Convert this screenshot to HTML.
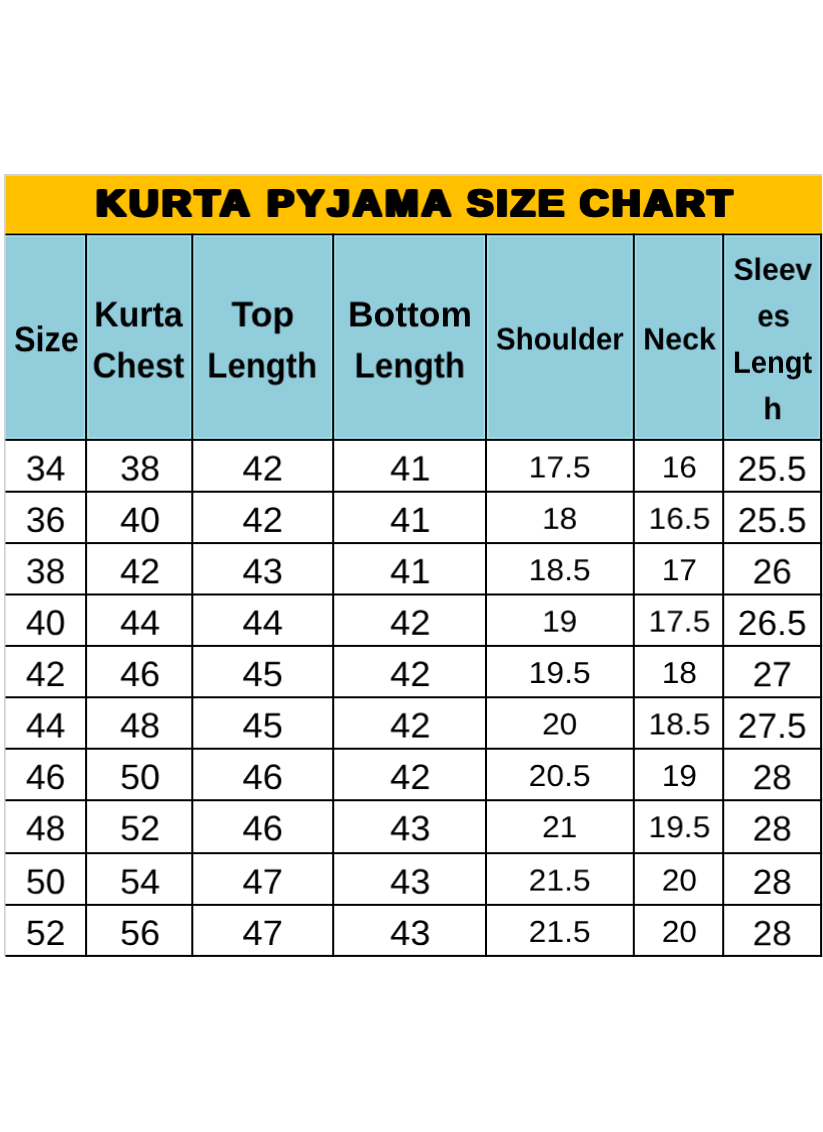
<!DOCTYPE html>
<html lang="en"><head><meta charset="utf-8">
<title>Kurta Pyjama Size Chart</title>
<style>
html,body{margin:0;padding:0;background:#fff;}
body{width:823px;height:1132px;overflow:hidden;position:relative;font-family:"Liberation Sans", Arial, Helvetica, sans-serif;color:#000;text-rendering:geometricPrecision;}
#chart{position:absolute;left:0;top:0;width:823px;height:1132px;overflow:hidden;}
#grid{position:absolute;left:0;top:0;}
.t,.c{transform:translate(var(--x),var(--y)) matrix3d(1,0,0,0,0,1,0,0,0,0,1,0.00001,0,0,0,1) scaleX(var(--s));}
.t{position:absolute;left:0;white-space:nowrap;line-height:0;height:0;margin:0;padding:0;transform-origin:0 0;}
.c{position:absolute;white-space:nowrap;line-height:0;height:0;text-align:center;margin:0;padding:0;}
.g{margin:0;padding:0;height:0;font:inherit;}
.t{display:block;}
.h{font-weight:bold;}
.title{font-weight:bold;letter-spacing:0.09em;text-shadow:1.8px 0px 0 #000,-1.8px 0px 0 #000,0px 1px 0 #000,0px -1px 0 #000,1.8px 1px 0 #000,1.8px -1px 0 #000,-1.8px 1px 0 #000,-1.8px -1px 0 #000;}
</style></head><body>
<div id="chart" role="table" aria-label="Kurta Pyjama Size Chart">
<svg id="grid" aria-hidden="true" width="823" height="1132" viewBox="0 0 823 1132"><rect x="5.50" y="175.70" width="816.45" height="58.70" fill="#FFC000"/><rect x="5.50" y="234.40" width="815.60" height="205.45" fill="#92CDDC"/><rect x="5.50" y="231.75" width="816.45" height="1.8" fill="#FFD100"/><rect x="5.50" y="235.25" width="815.60" height="1.6" fill="#A4E2EF"/><rect x="5.50" y="437.25" width="815.60" height="1.6" fill="#A4E2EF"/><rect x="83.60" y="234.40" width="5.00" height="205.45" fill="#A4E2EF"/><rect x="189.80" y="234.40" width="5.00" height="205.45" fill="#A4E2EF"/><rect x="330.70" y="234.40" width="5.00" height="205.45" fill="#A4E2EF"/><rect x="483.50" y="234.40" width="5.00" height="205.45" fill="#A4E2EF"/><rect x="631.30" y="234.40" width="5.00" height="205.45" fill="#A4E2EF"/><rect x="720.70" y="234.40" width="5.00" height="205.45" fill="#A4E2EF"/><rect x="818.60" y="234.40" width="1.50" height="205.45" fill="#A4E2EF"/><rect x="4.10" y="174.10" width="1.5" height="781.80" fill="#cdcdcd"/><rect x="4.10" y="174.10" width="817.85" height="1.7" fill="#cdcdcd"/><rect x="5.50" y="233.55" width="816.60" height="1.70" fill="#000"/><rect x="5.50" y="438.85" width="816.60" height="2.00" fill="#000"/><rect x="5.50" y="490.70" width="816.60" height="2.00" fill="#000"/><rect x="5.50" y="542.10" width="816.60" height="2.00" fill="#000"/><rect x="5.50" y="593.50" width="816.60" height="2.00" fill="#000"/><rect x="5.50" y="644.90" width="816.60" height="2.00" fill="#000"/><rect x="5.50" y="696.30" width="816.60" height="2.00" fill="#000"/><rect x="5.50" y="747.70" width="816.60" height="2.00" fill="#000"/><rect x="5.50" y="799.25" width="816.60" height="2.00" fill="#000"/><rect x="5.50" y="852.20" width="816.60" height="2.00" fill="#000"/><rect x="5.50" y="903.85" width="816.60" height="2.00" fill="#000"/><rect x="5.50" y="954.90" width="816.60" height="2.00" fill="#000"/><rect x="85.10" y="233.55" width="2.00" height="723.35" fill="#000"/><rect x="191.30" y="233.55" width="2.00" height="723.35" fill="#000"/><rect x="332.20" y="233.55" width="2.00" height="723.35" fill="#000"/><rect x="485.00" y="233.55" width="2.00" height="723.35" fill="#000"/><rect x="632.80" y="233.55" width="2.00" height="723.35" fill="#000"/><rect x="722.20" y="233.55" width="2.00" height="723.35" fill="#000"/><rect x="820.10" y="233.55" width="2.00" height="723.35" fill="#000"/></svg>
<h1 class="g" id="title">
<span class="t title" id="title0" style="--x:96.33px;--y:0.00px;--s:1.0753;top:203.25px;font-size:37.60px">KURTA</span>
<span class="t title" id="title1" style="--x:267.41px;--y:0.00px;--s:1.0553;top:203.25px;font-size:37.60px">PYJAMA</span>
<span class="t title" id="title2" style="--x:467.14px;--y:0.00px;--s:1.0345;top:203.25px;font-size:37.60px">SIZE</span>
<span class="t title" id="title3" style="--x:579.89px;--y:0.00px;--s:1.0480;top:203.25px;font-size:37.60px">CHART</span>
</h1>
<div class="g" role="row" id="head">
<div class="g" role="columnheader">
<span class="t h" id="head0" style="--x:14.05px;--y:0.30px;--s:0.9101;top:339.25px;font-size:35.50px">Size</span>
</div>
<div class="g" role="columnheader">
<span class="t h" id="head1" style="--x:94.18px;--y:0.40px;--s:0.9575;top:314.25px;font-size:35.50px">Kurta</span>
<span class="t h" id="head2" style="--x:92.59px;--y:0.50px;--s:0.9310;top:365.25px;font-size:35.50px">Chest</span>
</div>
<div class="g" role="columnheader">
<span class="t h" id="head3" style="--x:231.42px;--y:0.40px;--s:1.0067;top:314.25px;font-size:35.50px">Top</span>
<span class="t h" id="head4" style="--x:207.30px;--y:0.50px;--s:0.9281;top:365.25px;font-size:35.50px">Length</span>
</div>
<div class="g" role="columnheader">
<span class="t h" id="head5" style="--x:347.99px;--y:0.40px;--s:0.9976;top:314.25px;font-size:35.50px">Bottom</span>
<span class="t h" id="head6" style="--x:354.53px;--y:0.50px;--s:0.9351;top:365.25px;font-size:35.50px">Length</span>
</div>
<div class="g" role="columnheader">
<span class="t h" id="head7" style="--x:495.91px;--y:0.50px;--s:0.9515;top:339.25px;font-size:31.00px">Shoulder</span>
</div>
<div class="g" role="columnheader">
<span class="t h" id="head8" style="--x:643.14px;--y:0.50px;--s:0.9816;top:339.25px;font-size:31.00px">Neck</span>
</div>
<div class="g" role="columnheader">
<span class="t h" id="head9" style="--x:733.55px;--y:0.90px;--s:0.9701;top:269.25px;font-size:31.00px">Sleev</span>
<span class="t h" id="head10" style="--x:757.35px;--y:0.40px;--s:0.9431;top:316.25px;font-size:31.00px">es</span>
<span class="t h" id="head11" style="--x:732.95px;--y:0.80px;--s:0.9383;top:362.25px;font-size:31.00px">Lengt</span>
<span class="t h" id="head12" style="--x:763.29px;--y:0.20px;--s:0.9871;top:409.25px;font-size:31.00px">h</span>
</div>
</div>
<div class="g" role="row">
<div class="c" role="cell" id="d0_0" style="--x:-0.35px;--y:0.50px;--s:1.0040;left:5px;width:82px;top:468.25px;font-size:35.40px">34</div>
<div class="c" role="cell" id="d0_1" style="--x:0.65px;--y:0.50px;--s:1.0140;left:86px;width:107px;top:468.25px;font-size:35.40px">38</div>
<div class="c" role="cell" id="d0_2" style="--x:-0.25px;--y:0.50px;--s:1.0270;left:192px;width:142px;top:468.25px;font-size:35.40px">42</div>
<div class="c" role="cell" id="d0_3" style="--x:0.85px;--y:0.50px;--s:1.0240;left:333px;width:153px;top:468.25px;font-size:35.40px">41</div>
<div class="c" role="cell" id="d0_4" style="--x:-0.35px;--y:0.40px;--s:1.0500;left:486px;width:148px;top:468.25px;font-size:30.30px">17.5</div>
<div class="c" role="cell" id="d0_5" style="--x:0.90px;--y:0.40px;--s:1.0480;left:633px;width:91px;top:468.25px;font-size:30.30px">16</div>
<div class="c" role="cell" id="d0_6" style="--x:-0.30px;--y:0.70px;--s:1.0060;left:723px;width:99px;top:469.25px;font-size:35.10px">25.5</div>
</div>
<div class="g" role="row">
<div class="c" role="cell" id="d1_0" style="--x:-0.35px;--y:0.90px;--s:1.0040;left:5px;width:82px;top:519.25px;font-size:35.40px">36</div>
<div class="c" role="cell" id="d1_1" style="--x:0.65px;--y:0.90px;--s:1.0140;left:86px;width:107px;top:519.25px;font-size:35.40px">40</div>
<div class="c" role="cell" id="d1_2" style="--x:-0.25px;--y:0.90px;--s:1.0270;left:192px;width:142px;top:519.25px;font-size:35.40px">42</div>
<div class="c" role="cell" id="d1_3" style="--x:0.85px;--y:0.90px;--s:1.0240;left:333px;width:153px;top:519.25px;font-size:35.40px">41</div>
<div class="c" role="cell" id="d1_4" style="--x:-0.35px;--y:0.80px;--s:1.0500;left:486px;width:148px;top:519.25px;font-size:30.30px">18</div>
<div class="c" role="cell" id="d1_5" style="--x:0.90px;--y:0.80px;--s:1.0480;left:633px;width:91px;top:519.25px;font-size:30.30px">16.5</div>
<div class="c" role="cell" id="d1_6" style="--x:-0.30px;--y:0.10px;--s:1.0060;left:723px;width:99px;top:521.25px;font-size:35.10px">25.5</div>
</div>
<div class="g" role="row">
<div class="c" role="cell" id="d2_0" style="--x:-0.35px;--y:0.30px;--s:1.0040;left:5px;width:82px;top:571.25px;font-size:35.40px">38</div>
<div class="c" role="cell" id="d2_1" style="--x:0.65px;--y:0.30px;--s:1.0140;left:86px;width:107px;top:571.25px;font-size:35.40px">42</div>
<div class="c" role="cell" id="d2_2" style="--x:-0.25px;--y:0.30px;--s:1.0270;left:192px;width:142px;top:571.25px;font-size:35.40px">43</div>
<div class="c" role="cell" id="d2_3" style="--x:0.85px;--y:0.30px;--s:1.0240;left:333px;width:153px;top:571.25px;font-size:35.40px">41</div>
<div class="c" role="cell" id="d2_4" style="--x:-0.35px;--y:0.20px;--s:1.0500;left:486px;width:148px;top:571.25px;font-size:30.30px">18.5</div>
<div class="c" role="cell" id="d2_5" style="--x:0.90px;--y:0.20px;--s:1.0480;left:633px;width:91px;top:571.25px;font-size:30.30px">17</div>
<div class="c" role="cell" id="d2_6" style="--x:-0.30px;--y:0.50px;--s:1.0060;left:723px;width:99px;top:572.25px;font-size:35.10px">26</div>
</div>
<div class="g" role="row">
<div class="c" role="cell" id="d3_0" style="--x:-0.35px;--y:0.70px;--s:1.0040;left:5px;width:82px;top:622.25px;font-size:35.40px">40</div>
<div class="c" role="cell" id="d3_1" style="--x:0.65px;--y:0.70px;--s:1.0140;left:86px;width:107px;top:622.25px;font-size:35.40px">44</div>
<div class="c" role="cell" id="d3_2" style="--x:-0.25px;--y:0.70px;--s:1.0270;left:192px;width:142px;top:622.25px;font-size:35.40px">44</div>
<div class="c" role="cell" id="d3_3" style="--x:0.85px;--y:0.70px;--s:1.0240;left:333px;width:153px;top:622.25px;font-size:35.40px">42</div>
<div class="c" role="cell" id="d3_4" style="--x:-0.35px;--y:0.60px;--s:1.0500;left:486px;width:148px;top:622.25px;font-size:30.30px">19</div>
<div class="c" role="cell" id="d3_5" style="--x:0.90px;--y:0.60px;--s:1.0480;left:633px;width:91px;top:622.25px;font-size:30.30px">17.5</div>
<div class="c" role="cell" id="d3_6" style="--x:-0.30px;--y:0.90px;--s:1.0060;left:723px;width:99px;top:623.25px;font-size:35.10px">26.5</div>
</div>
<div class="g" role="row">
<div class="c" role="cell" id="d4_0" style="--x:-0.35px;--y:0.10px;--s:1.0040;left:5px;width:82px;top:674.25px;font-size:35.40px">42</div>
<div class="c" role="cell" id="d4_1" style="--x:0.65px;--y:0.10px;--s:1.0140;left:86px;width:107px;top:674.25px;font-size:35.40px">46</div>
<div class="c" role="cell" id="d4_2" style="--x:-0.25px;--y:0.10px;--s:1.0270;left:192px;width:142px;top:674.25px;font-size:35.40px">45</div>
<div class="c" role="cell" id="d4_3" style="--x:0.85px;--y:0.10px;--s:1.0240;left:333px;width:153px;top:674.25px;font-size:35.40px">42</div>
<div class="c" role="cell" id="d4_4" style="--x:-0.35px;--y:0.00px;--s:1.0500;left:486px;width:148px;top:674.25px;font-size:30.30px">19.5</div>
<div class="c" role="cell" id="d4_5" style="--x:0.90px;--y:0.00px;--s:1.0480;left:633px;width:91px;top:674.25px;font-size:30.30px">18</div>
<div class="c" role="cell" id="d4_6" style="--x:-0.30px;--y:0.30px;--s:1.0060;left:723px;width:99px;top:675.25px;font-size:35.10px">27</div>
</div>
<div class="g" role="row">
<div class="c" role="cell" id="d5_0" style="--x:-0.35px;--y:0.50px;--s:1.0040;left:5px;width:82px;top:725.25px;font-size:35.40px">44</div>
<div class="c" role="cell" id="d5_1" style="--x:0.65px;--y:0.50px;--s:1.0140;left:86px;width:107px;top:725.25px;font-size:35.40px">48</div>
<div class="c" role="cell" id="d5_2" style="--x:-0.25px;--y:0.50px;--s:1.0270;left:192px;width:142px;top:725.25px;font-size:35.40px">45</div>
<div class="c" role="cell" id="d5_3" style="--x:0.85px;--y:0.50px;--s:1.0240;left:333px;width:153px;top:725.25px;font-size:35.40px">42</div>
<div class="c" role="cell" id="d5_4" style="--x:-0.35px;--y:0.40px;--s:1.0500;left:486px;width:148px;top:725.25px;font-size:30.30px">20</div>
<div class="c" role="cell" id="d5_5" style="--x:0.90px;--y:0.40px;--s:1.0480;left:633px;width:91px;top:725.25px;font-size:30.30px">18.5</div>
<div class="c" role="cell" id="d5_6" style="--x:-0.30px;--y:0.70px;--s:1.0060;left:723px;width:99px;top:726.25px;font-size:35.10px">27.5</div>
</div>
<div class="g" role="row">
<div class="c" role="cell" id="d6_0" style="--x:-0.35px;--y:0.05px;--s:1.0040;left:5px;width:82px;top:777.25px;font-size:35.40px">46</div>
<div class="c" role="cell" id="d6_1" style="--x:0.65px;--y:0.05px;--s:1.0140;left:86px;width:107px;top:777.25px;font-size:35.40px">50</div>
<div class="c" role="cell" id="d6_2" style="--x:-0.25px;--y:0.05px;--s:1.0270;left:192px;width:142px;top:777.25px;font-size:35.40px">46</div>
<div class="c" role="cell" id="d6_3" style="--x:0.85px;--y:0.05px;--s:1.0240;left:333px;width:153px;top:777.25px;font-size:35.40px">42</div>
<div class="c" role="cell" id="d6_4" style="--x:-0.35px;--y:0.95px;--s:1.0500;left:486px;width:148px;top:776.25px;font-size:30.30px">20.5</div>
<div class="c" role="cell" id="d6_5" style="--x:0.90px;--y:0.95px;--s:1.0480;left:633px;width:91px;top:776.25px;font-size:30.30px">19</div>
<div class="c" role="cell" id="d6_6" style="--x:-0.30px;--y:0.25px;--s:1.0060;left:723px;width:99px;top:778.25px;font-size:35.10px">28</div>
</div>
<div class="g" role="row">
<div class="c" role="cell" id="d7_0" style="--x:-0.35px;--y:0.35px;--s:1.0040;left:5px;width:82px;top:828.25px;font-size:35.40px">48</div>
<div class="c" role="cell" id="d7_1" style="--x:0.65px;--y:0.35px;--s:1.0140;left:86px;width:107px;top:828.25px;font-size:35.40px">52</div>
<div class="c" role="cell" id="d7_2" style="--x:-0.25px;--y:0.35px;--s:1.0270;left:192px;width:142px;top:828.25px;font-size:35.40px">46</div>
<div class="c" role="cell" id="d7_3" style="--x:0.85px;--y:0.35px;--s:1.0240;left:333px;width:153px;top:828.25px;font-size:35.40px">43</div>
<div class="c" role="cell" id="d7_4" style="--x:-0.35px;--y:0.25px;--s:1.0500;left:486px;width:148px;top:828.25px;font-size:30.30px">21</div>
<div class="c" role="cell" id="d7_5" style="--x:0.90px;--y:0.25px;--s:1.0480;left:633px;width:91px;top:828.25px;font-size:30.30px">19.5</div>
<div class="c" role="cell" id="d7_6" style="--x:-0.30px;--y:0.55px;--s:1.0060;left:723px;width:99px;top:829.25px;font-size:35.10px">28</div>
</div>
<div class="g" role="row">
<div class="c" role="cell" id="d8_0" style="--x:-0.35px;--y:0.65px;--s:1.0040;left:5px;width:82px;top:881.25px;font-size:35.40px">50</div>
<div class="c" role="cell" id="d8_1" style="--x:0.65px;--y:0.65px;--s:1.0140;left:86px;width:107px;top:881.25px;font-size:35.40px">54</div>
<div class="c" role="cell" id="d8_2" style="--x:-0.25px;--y:0.65px;--s:1.0270;left:192px;width:142px;top:881.25px;font-size:35.40px">47</div>
<div class="c" role="cell" id="d8_3" style="--x:0.85px;--y:0.65px;--s:1.0240;left:333px;width:153px;top:881.25px;font-size:35.40px">43</div>
<div class="c" role="cell" id="d8_4" style="--x:-0.35px;--y:0.55px;--s:1.0500;left:486px;width:148px;top:881.25px;font-size:30.30px">21.5</div>
<div class="c" role="cell" id="d8_5" style="--x:0.90px;--y:0.55px;--s:1.0480;left:633px;width:91px;top:881.25px;font-size:30.30px">20</div>
<div class="c" role="cell" id="d8_6" style="--x:-0.30px;--y:0.85px;--s:1.0060;left:723px;width:99px;top:882.25px;font-size:35.10px">28</div>
</div>
<div class="g" role="row">
<div class="c" role="cell" id="d9_0" style="--x:-0.35px;--y:1.00px;--s:1.0040;left:5px;width:82px;top:932.25px;font-size:35.40px">52</div>
<div class="c" role="cell" id="d9_1" style="--x:0.65px;--y:1.00px;--s:1.0140;left:86px;width:107px;top:932.25px;font-size:35.40px">56</div>
<div class="c" role="cell" id="d9_2" style="--x:-0.25px;--y:1.00px;--s:1.0270;left:192px;width:142px;top:932.25px;font-size:35.40px">47</div>
<div class="c" role="cell" id="d9_3" style="--x:0.85px;--y:1.00px;--s:1.0240;left:333px;width:153px;top:932.25px;font-size:35.40px">43</div>
<div class="c" role="cell" id="d9_4" style="--x:-0.35px;--y:0.90px;--s:1.0500;left:486px;width:148px;top:932.25px;font-size:30.30px">21.5</div>
<div class="c" role="cell" id="d9_5" style="--x:0.90px;--y:0.90px;--s:1.0480;left:633px;width:91px;top:932.25px;font-size:30.30px">20</div>
<div class="c" role="cell" id="d9_6" style="--x:-0.30px;--y:0.20px;--s:1.0060;left:723px;width:99px;top:934.25px;font-size:35.10px">28</div>
</div>
</div>
</body></html>
